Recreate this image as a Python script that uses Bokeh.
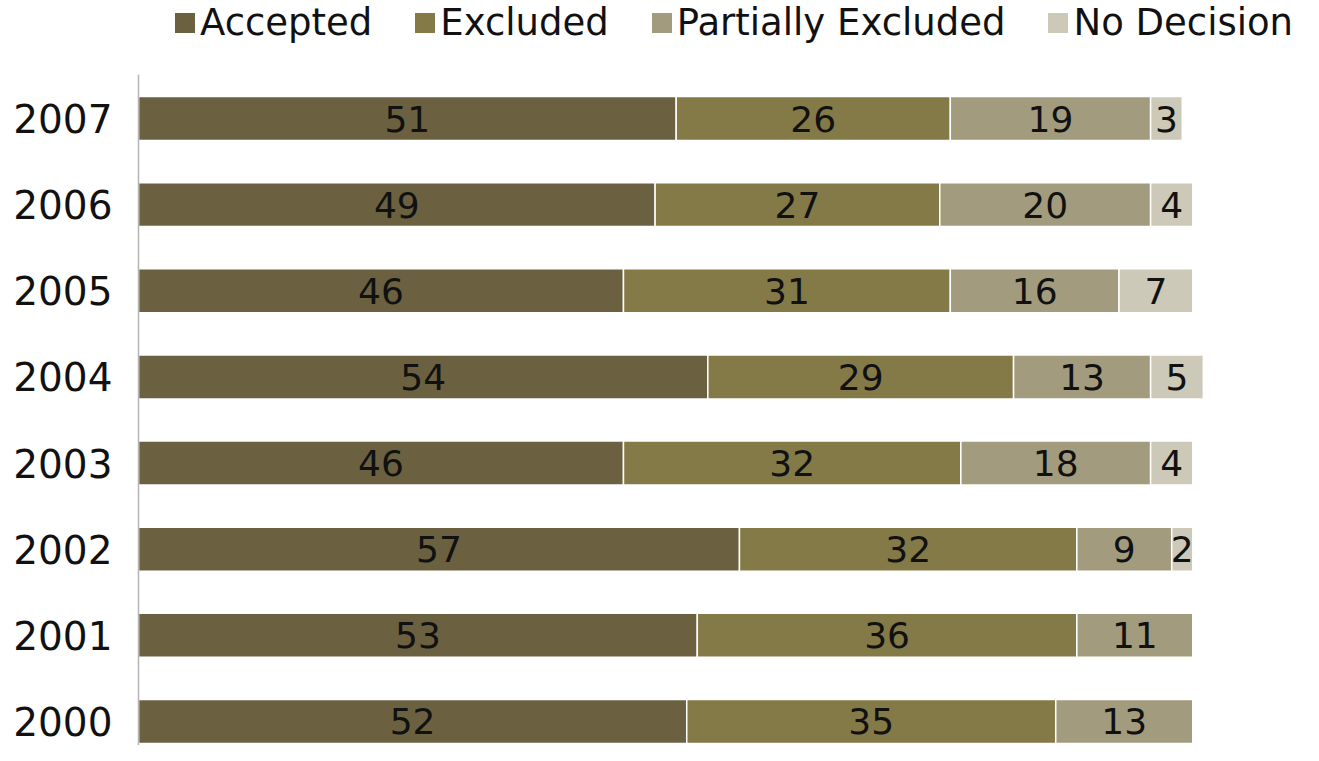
import pandas as pd
from bokeh.plotting import figure
from bokeh.layouts import column
from bokeh.models import ColumnDataSource, Range1d, FixedTicker, Legend, LegendItem
from bokeh.core.properties import value
from bokeh.embed import file_html
from bokeh.resources import INLINE

years = ["2000", "2001", "2002", "2003", "2004", "2005", "2006", "2007"]
accepted = [52, 53, 57, 46, 54, 46, 49, 51]
excluded = [35, 36, 32, 32, 29, 31, 27, 26]
partially = [13, 11, 9, 18, 13, 16, 20, 19]
no_decision = [0, 0, 2, 4, 5, 7, 4, 3]
series_names = ["Accepted", "Excluded", "Partially Excluded", "No Decision"]
colors = ["#6b6140", "#847a48", "#a39b7e", "#cdc9b8"]

FONT = "DejaVu Sans"
W = 1303
LEG_H = 60
MAIN_H = 685

df = pd.DataFrame({"year": years, "y": list(range(len(years))),
                   "Accepted": accepted, "Excluded": excluded,
                   "Partially Excluded": partially, "No Decision": no_decision})
src = ColumnDataSource(df)

# ---- main chart ----
p = figure(width=W, height=MAIN_H, output_backend="svg", toolbar_location=None,
           x_range=Range1d(0, 110.5), y_range=Range1d(-0.279, 7.511),
           min_border_left=138, min_border_right=0, min_border_top=14,
           min_border_bottom=0)
p.outline_line_color = None
p.xgrid.visible = False
p.ygrid.visible = False
p.xaxis.visible = False

renderers = p.hbar_stack(series_names, y="y", height=0.51, color=colors,
                         source=src, line_color="white", line_width=1.5)

xs, ys, ts = [], [], []
cum = [0] * len(years)
for name in series_names:
    vals = df[name].tolist()
    for i, v in enumerate(vals):
        if v > 0:
            xs.append(cum[i] + v / 2)
            ys.append(i)
            ts.append(str(v))
        cum[i] += v
lab = ColumnDataSource(dict(x=xs, y=ys, t=ts))
p.text(x="x", y="y", text="t", source=lab, text_align="center",
       text_baseline="middle", text_font=value(FONT), text_font_size="36px",
       text_color="#111111")

ax = p.yaxis[0]
ax.ticker = FixedTicker(ticks=list(range(len(years))))
ax.major_label_overrides = {i: y for i, y in enumerate(years)}
ax.major_label_text_font = FONT
ax.major_label_text_font_size = "39px"
ax.major_label_text_color = "#111111"
ax.major_label_standoff = 20
ax.major_tick_line_color = None
ax.minor_tick_line_color = None
ax.axis_line_color = "#b5b5b5"
ax.axis_line_width = 1.5

# ---- legend strip (same data, bars kept out of its view) ----
pl = figure(width=W, height=LEG_H, output_backend="svg", toolbar_location=None,
            x_axis_type=None, y_axis_type=None,
            x_range=Range1d(-100, -99), y_range=Range1d(-100, -99),
            min_border_left=0, min_border_right=0, min_border_top=0,
            min_border_bottom=0)
pl.grid.visible = False
pl.outline_line_color = None
leg_rs = pl.hbar_stack(series_names, y="y", height=0.51, color=colors,
                       source=src, line_color=None)
legend = Legend(items=[LegendItem(label=n, renderers=[r]) for n, r in zip(series_names, leg_rs)],
                orientation="horizontal", location=(34, 16),
                glyph_width=25, glyph_height=25, label_standoff=3, spacing=40,
                label_text_font=FONT, label_text_font_size="37px",
                label_text_color="#111111", padding=0, margin=0,
                border_line_alpha=0, background_fill_alpha=0)
pl.add_layout(legend, "center")

layout = column(pl, p, spacing=0)
open("out.html", "w").write(file_html(layout, INLINE))
